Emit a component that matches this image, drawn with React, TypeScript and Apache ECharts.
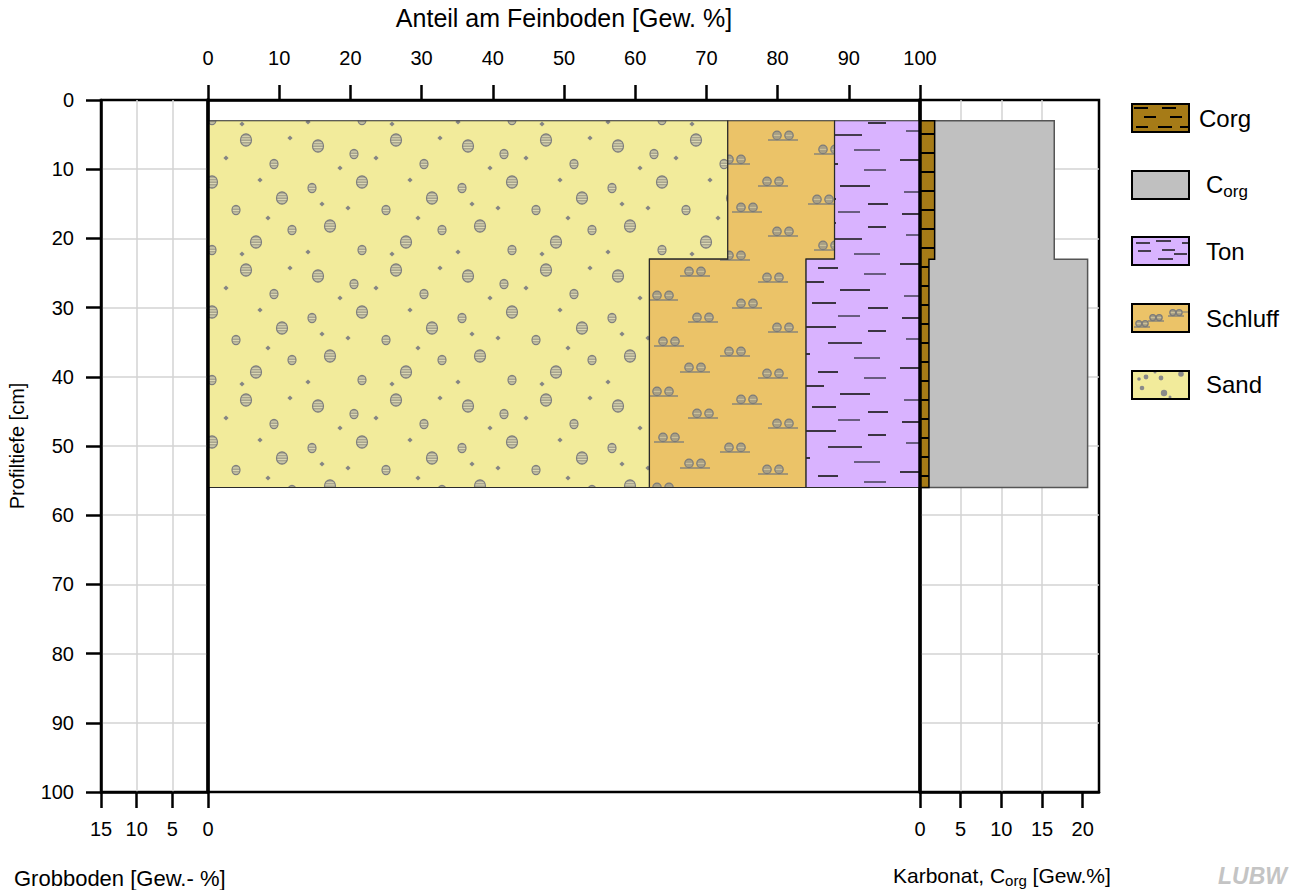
import React, { useEffect, useRef } from 'react';
import * as echarts from 'echarts';

// ---------------- data ----------------
const DEPTH_TOP = [3, 23]; // cm
const DEPTH_BOTTOM = [23, 56]; // cm
const SAND = [73, 62]; // Gew.% of Feinboden
const SCHLUFF = [15, 22];
const TON = [12, 16];
const KARBONAT = [1.8, 1.1]; // Gew.%
const CORG = [16.5, 20.6]; // Gew.%

const DEPTH_TICKS = [0, 10, 20, 30, 40, 50, 60, 70, 80, 90, 100];
const FEIN_TICKS = [0, 10, 20, 30, 40, 50, 60, 70, 80, 90, 100];
const GROB_TICKS = [0, 5, 10, 15];
const KARB_TICKS = [0, 5, 10, 15, 20];
const LEGEND_LABELS = ['Corg', '{c|C}{s|org}', 'Ton', 'Schluff', 'Sand'];

const FONT = "'Liberation Sans', Arial, Helvetica, sans-serif";

// ---------------- textures ----------------
type Ctx = CanvasRenderingContext2D;
function tile(w: number, h: number, bg: string, draw: (ctx: Ctx) => void) {
  const c = document.createElement('canvas');
  c.width = w;
  c.height = h;
  const ctx = c.getContext('2d') as Ctx;
  ctx.fillStyle = bg;
  ctx.fillRect(0, 0, w, h);
  draw(ctx);
  return { image: c.toDataURL(), repeat: 'repeat', imageWidth: w, imageHeight: h } as any;
}

function striped(ctx: Ctx, x: number, y: number, rx: number, ry: number) {
  ctx.save();
  ctx.beginPath();
  ctx.ellipse(x, y, rx, ry, 0, 0, Math.PI * 2);
  ctx.fillStyle = '#a8a58e';
  ctx.fill();
  ctx.clip();
  ctx.strokeStyle = '#dcd8b4';
  ctx.lineWidth = 1;
  for (let yy = y - ry + 2.5; yy < y + ry; yy += 2.6) {
    ctx.beginPath();
    ctx.moveTo(x - rx, yy);
    ctx.lineTo(x + rx, yy);
    ctx.stroke();
  }
  ctx.restore();
  ctx.beginPath();
  ctx.ellipse(x, y, rx, ry, 0, 0, Math.PI * 2);
  ctx.strokeStyle = '#7e7e7e';
  ctx.lineWidth = 1.2;
  ctx.stroke();
}

function diamond(ctx: Ctx, x: number, y: number) {
  ctx.beginPath();
  ctx.moveTo(x, y - 2.6);
  ctx.lineTo(x + 2.6, y);
  ctx.lineTo(x, y + 2.6);
  ctx.lineTo(x - 2.6, y);
  ctx.closePath();
  ctx.fillStyle = '#858585';
  ctx.fill();
}

function dot(ctx: Ctx, x: number, y: number, r: number) {
  ctx.beginPath();
  ctx.arc(x, y, r, 0, Math.PI * 2);
  ctx.fillStyle = '#8a8a8a';
  ctx.fill();
}

function schluffGroup(ctx: Ctx, x: number, y: number, len = 30, r = 4.2) {
  ctx.strokeStyle = '#8a8678';
  ctx.lineWidth = 1.5;
  ctx.beginPath();
  ctx.moveTo(x, y);
  ctx.lineTo(x + len, y);
  ctx.stroke();
  [x + len * 0.3, x + len * 0.7].forEach((cx) => {
    ctx.beginPath();
    ctx.arc(cx, y - r - 0.4, r, 0, Math.PI * 2);
    ctx.fillStyle = '#a89f84';
    ctx.fill();
    ctx.strokeStyle = '#7a7a7a';
    ctx.lineWidth = 1.2;
    ctx.stroke();
    ctx.strokeStyle = '#cfc49c';
    ctx.lineWidth = 1;
    ctx.beginPath();
    ctx.moveTo(cx - r + 1, y - r - 0.4);
    ctx.lineTo(cx + r - 1, y - r - 0.4);
    ctx.stroke();
  });
}

function hline(ctx: Ctx, x: number, y: number, l: number, color: string, w = 1.6) {
  ctx.strokeStyle = color;
  ctx.lineWidth = w;
  ctx.beginPath();
  ctx.moveTo(x, y);
  ctx.lineTo(x + l, y);
  ctx.stroke();
}

const SAND_BG = '#f2eb9b';
const SCHLUFF_BG = '#ebc368';
const TON_BG = '#d9b3ff';
const BROWN_BG = '#a67b17';

const SAND_BIG = [[18, 16], [96, 10], [62, 52], [132, 68], [30, 96], [106, 112]];
const SAND_SMALL = [[54, 24], [124, 34], [12, 58], [86, 80], [62, 120], [142, 100]];
const SAND_DOT = [[40, 38], [110, 50], [76, 28], [22, 74], [48, 78], [118, 88], [8, 122], [92, 124], [140, 8]];
const sandPattern = () =>
  tile(150, 130, SAND_BG, (ctx) => {
    SAND_BIG.forEach(([x, y]) => striped(ctx, x, y, 5.5, 6.2));
    SAND_SMALL.forEach(([x, y]) => striped(ctx, x, y, 4, 4.6));
    SAND_DOT.forEach(([x, y]) => diamond(ctx, x, y));
  });

const SCHLUFF_GROUPS = [[8, 12], [92, 20], [48, 34], [128, 44], [14, 58], [80, 68], [40, 84], [118, 90]];
const schluffPattern = () =>
  tile(160, 96, SCHLUFF_BG, (ctx) => {
    SCHLUFF_GROUPS.forEach(([x, y]) => schluffGroup(ctx, x, y));
  });

const TON_LINES = [
  [6, 6, 26], [70, 4, 22], [38, 15, 30], [100, 19, 18], [10, 27, 22], [60, 31, 34],
  [24, 42, 18], [86, 46, 26], [4, 56, 30], [50, 60, 20], [96, 66, 22], [30, 74, 26],
  [72, 82, 30], [8, 88, 18], [44, 95, 24], [100, 100, 20],
];
const tonPattern = () =>
  tile(128, 104, TON_BG, (ctx) => {
    TON_LINES.forEach(([x, y, l], i) => hline(ctx, x, y, l, i % 3 === 1 ? '#4d4760' : '#141414'));
  });

const brownColumnPattern = () =>
  tile(10, 19, BROWN_BG, (ctx) => {
    ctx.fillStyle = '#000';
    ctx.fillRect(0, 0, 10, 2);
  });

// legend swatches (57 x 28), drawn in the rect's own coordinates
const legendBrown = () =>
  tile(57, 28, BROWN_BG, (ctx) => {
    [[2, 3, 14], [30, 3, 14], [12, 12, 12], [38, 12, 12], [4, 22, 12], [26, 22, 14], [48, 22, 9]].forEach(([x, y, l]) => {
      ctx.fillStyle = '#000';
      ctx.fillRect(x, y, l, 2);
    });
  });
const legendTon = () =>
  tile(57, 28, TON_BG, (ctx) => {
    [[4, 6, 14], [24, 4, 15], [50, 6, 7], [6, 14, 13], [30, 13, 13], [42, 17, 13], [26, 22, 15]].forEach(([x, y, l]) =>
      hline(ctx, x, y, l, '#141414', 1.5),
    );
  });
const legendSchluff = () =>
  tile(57, 28, SCHLUFF_BG, (ctx) => {
    schluffGroup(ctx, 2, 23, 16, 3);
    schluffGroup(ctx, 16, 17, 16, 3);
    schluffGroup(ctx, 36, 12, 16, 3);
    hline(ctx, 50, 8, 7, '#8a8678', 1.2);
  });
const legendSand = () =>
  tile(57, 28, SAND_BG, (ctx) => {
    dot(ctx, 7, 8, 1.8);
    dot(ctx, 14, 6, 2.4);
    dot(ctx, 29, 7, 2.4);
    dot(ctx, 49, 3, 2.8);
    dot(ctx, 10, 17, 2.3);
    dot(ctx, 32, 22, 3.2);
    dot(ctx, 23, 1, 1.5);
    dot(ctx, 38, 26, 1.5);
  });

function stepPolygon(api: any, lefts: number[], rights: number[]) {
  const pts: number[][] = [];
  for (let i = 0; i < DEPTH_TOP.length; i++) {
    pts.push(api.coord([rights[i], DEPTH_TOP[i]]));
    pts.push(api.coord([rights[i], DEPTH_BOTTOM[i]]));
  }
  for (let i = DEPTH_TOP.length - 1; i >= 0; i--) {
    pts.push(api.coord([lefts[i], DEPTH_BOTTOM[i]]));
    pts.push(api.coord([lefts[i], DEPTH_TOP[i]]));
  }
  return pts;
}

const axisLineStyle = { color: '#000', width: 2.5 };
const gridLine = { show: true, showMinLine: false, showMaxLine: false, lineStyle: { color: '#d3d3d3', width: 1.5 } };
const labelStyle = { fontSize: 20, color: '#000', fontFamily: FONT };
const tickStyle = { color: '#000', width: 2.5 };

export default function App() {
  const ref = useRef<HTMLDivElement>(null);

  useEffect(() => {
    document.body.style.margin = '0';
    if (!ref.current) return;
    const chart = echarts.init(ref.current, undefined, { renderer: 'svg' });

    const sandFill = sandPattern();
    const schluffFill = schluffPattern();
    const tonFill = tonPattern();
    const brownFill = brownColumnPattern();

    const zeros = DEPTH_TOP.map(() => 0);
    const sandR = SAND.map((v) => v);
    const schluffR = SAND.map((v, i) => v + SCHLUFF[i]);
    const tonR = schluffR.map((v, i) => v + TON[i]);
    const MATERIALS = [
      { lefts: zeros, rights: sandR, fill: sandFill },
      { lefts: sandR, rights: schluffR, fill: schluffFill },
      { lefts: schluffR, rights: tonR, fill: tonFill },
    ];

    const legendFills = [legendBrown(), '#c0c0c0', legendTon(), legendSchluff(), legendSand()];
    const legendGraphics: any[] = [];
    LEGEND_LABELS.forEach((lab, i) => {
      const cy = 118 + i * 66.7;
      legendGraphics.push({
        type: 'rect',
        x: 1132,
        y: Math.round(cy - 14),
        shape: { x: 0, y: 0, width: 57, height: 28 },
        style: { fill: legendFills[i], stroke: '#000', lineWidth: 2 },
      });
      legendGraphics.push({
        type: 'text',
        x: i === 0 ? 1199 : 1206,
        y: cy,
        style: {
          text: lab,
          font: `24px ${FONT}`,
          fill: '#000',
          verticalAlign: 'middle',
          rich: {
            c: { fontSize: 24, fontFamily: FONT, lineHeight: 30, verticalAlign: 'middle' },
            s: { fontSize: 17, fontFamily: FONT, lineHeight: 17, verticalAlign: 'bottom' },
          },
        },
      });
    });

    const option: any = {
      animation: false,
      backgroundColor: '#fff',
      textStyle: { fontFamily: FONT },
      grid: [
        { left: 101, top: 100, width: 107, height: 692, show: true, borderColor: '#000', borderWidth: 2.5 },
        { left: 208, top: 100, width: 712, height: 692, show: true, borderColor: '#000', borderWidth: 2.5 },
        { left: 920, top: 100, width: 179, height: 692, show: true, borderColor: '#000', borderWidth: 2.5 },
      ],
      xAxis: [
        {
          gridIndex: 0, type: 'value', position: 'bottom', inverse: true,
          min: GROB_TICKS[0], max: GROB_TICKS[GROB_TICKS.length - 1], interval: 5,
          axisLine: { show: true, onZero: false, lineStyle: axisLineStyle },
          axisTick: { show: true, length: 16, lineStyle: tickStyle },
          axisLabel: { ...labelStyle, margin: 27 },
          splitLine: gridLine,
        },
        {
          gridIndex: 1, type: 'value', position: 'top',
          min: FEIN_TICKS[0], max: FEIN_TICKS[FEIN_TICKS.length - 1], interval: 10,
          name: 'Anteil am Feinboden [Gew. %]', nameLocation: 'middle', nameGap: 70,
          nameTextStyle: { fontSize: 25, color: '#000', fontFamily: FONT },
          axisLine: { show: true, onZero: false, lineStyle: axisLineStyle },
          axisTick: { show: true, length: 15, lineStyle: tickStyle },
          axisLabel: { ...labelStyle, margin: 32 },
          splitLine: { show: false },
        },
        {
          gridIndex: 2, type: 'value', position: 'bottom',
          min: 0, max: 22, interval: 5,
          axisLine: { show: true, onZero: false, lineStyle: axisLineStyle },
          axisTick: { show: true, length: 16, customValues: KARB_TICKS, lineStyle: tickStyle },
          axisLabel: { ...labelStyle, margin: 27, customValues: KARB_TICKS },
          splitLine: gridLine,
        },
      ],
      yAxis: [
        {
          gridIndex: 0, type: 'value', position: 'left', inverse: true, z: 4,
          min: DEPTH_TICKS[0], max: DEPTH_TICKS[DEPTH_TICKS.length - 1], interval: 10,
          name: 'Profiltiefe [cm]', nameLocation: 'middle', nameRotate: 90, nameGap: 74,
          nameTextStyle: { fontSize: 20, color: '#000', fontFamily: FONT },
          axisLine: { show: true, onZero: false, lineStyle: axisLineStyle },
          axisTick: { show: true, length: 15, lineStyle: tickStyle },
          axisLabel: { ...labelStyle, margin: 27 },
          splitLine: gridLine,
        },
        {
          gridIndex: 1, type: 'value', position: 'left', inverse: true, min: 0, max: 100, z: 5,
          axisLine: { show: true, onZero: false, lineStyle: { color: '#000', width: 3.5 } },
          axisTick: { show: false }, axisLabel: { show: false }, splitLine: { show: false },
        },
        {
          gridIndex: 2, type: 'value', position: 'left', inverse: true, min: 0, max: 100, interval: 10,
          axisLine: { show: false, onZero: false }, axisTick: { show: false }, axisLabel: { show: false },
          splitLine: gridLine,
        },
        {
          gridIndex: 2, type: 'value', position: 'left', inverse: true, min: 0, max: 100, z: 5,
          axisLine: { show: true, onZero: false, lineStyle: { color: '#000', width: 3.5 } },
          axisTick: { show: false }, axisLabel: { show: false }, splitLine: { show: false },
        },
      ],
      series: [
        {
          type: 'custom', name: 'Feinboden', xAxisIndex: 1, yAxisIndex: 1, silent: true,
          data: MATERIALS.map((_, i) => [i, 0]),
          renderItem: (params: any, api: any) => {
            const m = MATERIALS[params.dataIndex];
            return {
              type: 'polygon',
              shape: { points: stepPolygon(api, m.lefts, m.rights) },
              style: { fill: m.fill, stroke: '#2a2a2a', lineWidth: 1.2 },
            };
          },
        },
        {
          type: 'custom', name: 'Corg', xAxisIndex: 2, yAxisIndex: 2, silent: true,
          data: [[0, 0]],
          renderItem: (params: any, api: any) => ({
            type: 'polygon',
            shape: { points: stepPolygon(api, zeros, CORG) },
            style: { fill: '#c0c0c0', stroke: '#555', lineWidth: 1.5 },
          }),
        },
        {
          type: 'custom', name: 'Karbonat', xAxisIndex: 2, yAxisIndex: 2, silent: true, z: 3,
          data: [[0, 0]],
          renderItem: (params: any, api: any) => ({
            type: 'polygon',
            shape: { points: stepPolygon(api, zeros, KARBONAT) },
            style: { fill: brownFill, stroke: '#000', lineWidth: 1.5 },
          }),
        },
      ],
      graphic: [
        ...legendGraphics,
        {
          type: 'text', x: 14, y: 878,
          style: { text: 'Grobboden [Gew.- %]', font: `22px ${FONT}`, fill: '#000', verticalAlign: 'middle' },
        },
        {
          type: 'text', x: 893, y: 875,
          style: {
            text: '{a|Karbonat, C}{s|org}{a| [Gew.%]}',
            fill: '#000', verticalAlign: 'middle',
            rich: {
              a: { fontSize: 21, fontFamily: FONT, lineHeight: 26, verticalAlign: 'middle' },
              s: { fontSize: 15, fontFamily: FONT, lineHeight: 15, verticalAlign: 'bottom' },
            },
          },
        },
        {
          type: 'text', x: 1218, y: 876,
          style: {
            text: 'LUBW', font: `italic bold 23px ${FONT}`, fill: '#c4c4c4', verticalAlign: 'middle',
          },
        },
      ],
    };

    chart.setOption(option);
    return () => chart.dispose();
  }, []);

  return <div ref={ref} style={{ width: 1306, height: 890 }} />;
}
